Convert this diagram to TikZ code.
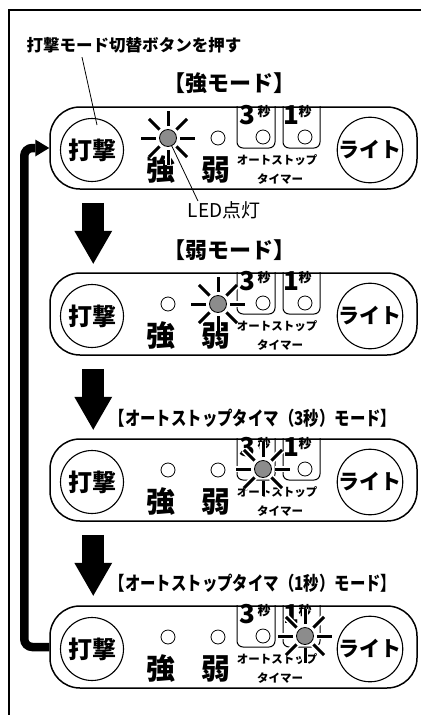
\documentclass[tikz,border=0pt]{standalone}
\usepackage{fontspec}
\usepackage{graphicx}
\setmainfont{Noto Sans CJK JP}
\usetikzlibrary{arrows.meta, positioning}

\definecolor{ledgray}{HTML}{8C8C8C}

\begin{document}
\begin{tikzpicture}[x=1pt, y=-1pt,
	panel/.style = {draw, line width=1.5pt, rounded corners=30pt, minimum width=367pt, minimum height=82pt},
	button/.style = {draw, shape = circle, line width=1.1pt, minimum size=63pt, inner sep=0pt},
	led/.style = {draw, shape = circle, line width=0.8pt, minimum size=14pt, inner sep=0pt, fill=white},
	ledon/.style = {led, fill=ledgray, minimum size=17pt},
	ray/.style = {line width=3pt},
	halo/.style = {line width=6.5pt, white},
	tab/.style = {line width=1pt, rounded corners=6pt},
	txt/.style = {inner sep=0pt, font=\fontsize{#1}{#1}\selectfont},
	heavy/.style = {inner sep=0pt, font=\fontsize{#1}{#1}\selectfont\bfseries},
	lead/.style = {line width=0.8pt},
	down/.style = {line width=22pt, -{Triangle[length=33pt, width=38pt, line width=0pt]}},
	back/.style = {line width=8.5pt, rounded corners=8pt, -{Triangle[length=14pt, width=17pt, line width=0pt]}}
]
	\useasboundingbox (0,0) rectangle (421,715);
	\draw[line width=1.8pt] (421,10) -| (9,715);

	\foreach \i/\oy/\on in {1/0/s, 2/166/w, 3/332/a, 4/499/b} {
		\begin{scope}[shift={(0,\oy)}]
		\node[panel] (p\i) at (233.5,148) {};
		\draw[tab] (237,106) -- (237,148) -- (275,148) -- (275,106);
		\draw[tab] (283,106) -- (283,148) -- (320,148) -- (320,106);

		\node[button, heavy=24] (hit\i) at (92,150) {打撃};
		\node[button, heavy=21] (light\i) at (370,150) {ライト};

		\node[heavy=29] (ks\i) at (161,170) {強};
		\node[heavy=29] (kw\i) at (216,170) {弱};
		\node[heavy=26] (n3\i) at (247,115) {3};
		\node[heavy=13] (s3\i) at (264,112) {秒};
		\node[heavy=26] (n1\i) at (291,115) {1};
		\node[heavy=13] (s1\i) at (305,112) {秒};
		\node[heavy=11.5] (auto\i) at (277,160) {オートストップ};
		\node[heavy=11.5] (timer\i) at (280,179) {タイマー};

		\node[led] (s\i) at (168,138) {};
		\node[led] (w\i) at (218,138) {};
		\node[led] (a\i) at (263,137) {};
		\node[led] (b\i) at (305,137) {};

		\foreach \r in {0,45,...,315} {
			\draw[halo] (\on\i.center) ++(\r:12) -- ++(\r:15);
			\draw[ray] (\on\i.center) ++(\r:12) -- ++(\r:15);
		}
		\node[ledon] (on\i) at (\on\i) {};
		\end{scope}
	}

	\node[heavy=22] (t1) at (229,83) {【強モード】};
	\node[heavy=22] (t2) at (229,250) {【弱モード】};
	\node[heavy=19] (t3) at (253,418) {\scalebox{0.81}[1]{【オートストップタイマ（3秒）モード】}};
	\node[heavy=19] (t4) at (253,583) {\scalebox{0.81}[1]{【オートストップタイマ（1秒）モード】}};

	\node[heavy=16.5] (press) at (134,45) {打撃モード切替ボタンを押す};
	\coordinate (presstip) at (97,125);
	\draw[lead] ([xshift=-52pt, yshift=-4pt]press.south) -- (presstip);

	\node[txt=19] (ledtxt) at (224,210) {LED点灯};
	\draw[lead] (on1) -- ([xshift=-26pt]ledtxt.north);

	\foreach \j in {1,2,3}
		\draw[down] (p\j.south west) ++(44,13) -- ++(0,61);

	\draw[back] (p4.west) -- ++(-25,0) |- (p1.west);

\end{tikzpicture}
\end{document}
